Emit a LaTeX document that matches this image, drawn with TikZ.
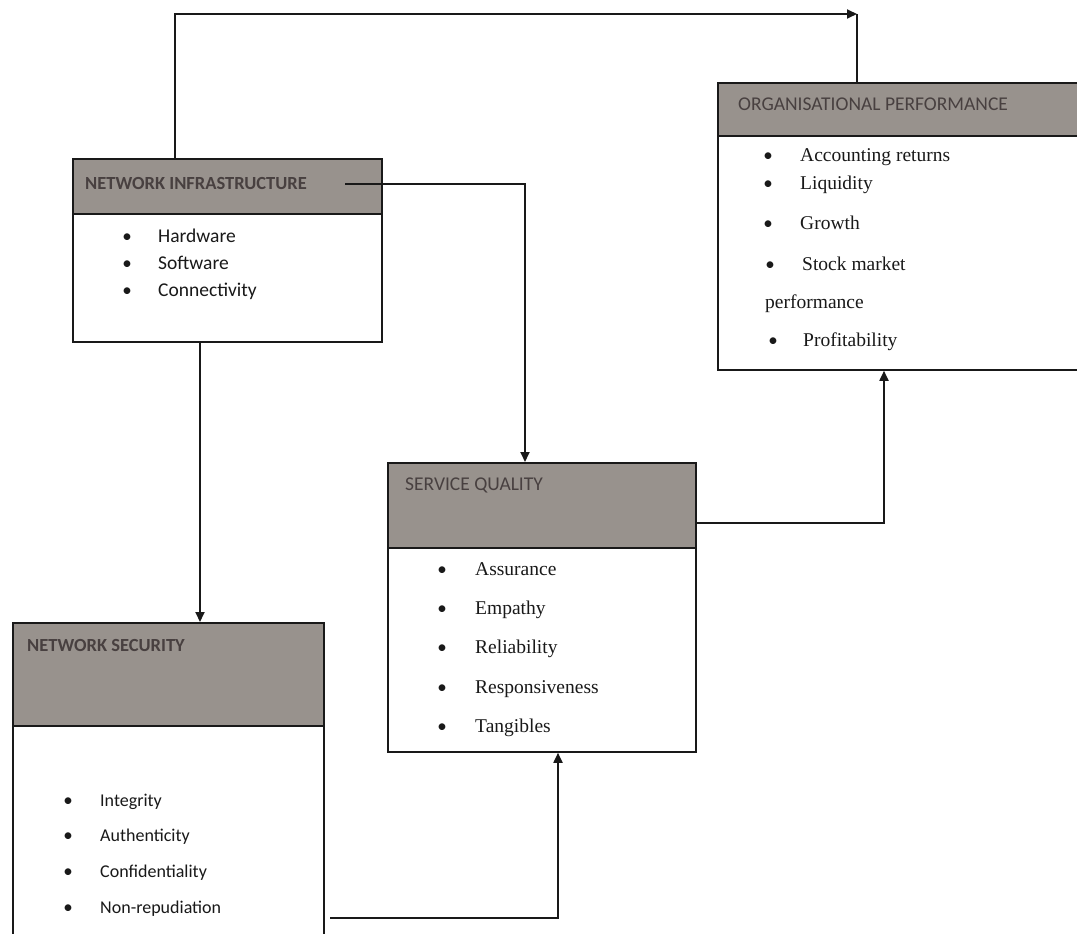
\documentclass[tikz,border=0pt]{standalone}
\usepackage{fontspec}
\setmainfont{Carlito}
\newfontfamily\itemserif{Liberation Serif}
\usetikzlibrary{arrows.meta}
\definecolor{hdrfill}{RGB}{152,146,141}
\definecolor{hdrtext}{RGB}{72,64,64}
\definecolor{ink}{RGB}{25,25,25}
\begin{document}
\begin{tikzpicture}[x=1pt,y=-1pt,
  box/.style={draw=ink, line width=1.8pt, inner sep=0pt, anchor=north west},
  hdrbox/.style={draw=ink, line width=1.8pt, fill=hdrfill, inner sep=0pt, anchor=north west},
  hd/.style={anchor=mid west, inner sep=0pt, text=hdrtext, font=\fontsize{19.5}{22}\selectfont},
  hdb/.style={anchor=mid west, inner sep=0pt, text=hdrtext, font=\bfseries\fontsize{18.5}{22}\selectfont},
  itsans/.style={anchor=mid west, inner sep=0pt, text=ink, font=\fontsize{19.5}{22}\selectfont},
  itsansb/.style={anchor=mid west, inner sep=0pt, text=ink, font=\fontsize{18}{22}\selectfont},
  itser/.style={anchor=mid west, inner sep=0pt, text=ink, font=\itemserif\fontsize{19.5}{22}\selectfont},
  bul/.style={anchor=mid, inner sep=0pt, text=ink, font=\fontsize{19}{22}\selectfont},
  conn/.style={draw=ink, line width=1.8pt},
  arr/.style={conn, -{Triangle[length=10pt,width=9pt]}}
]
\useasboundingbox[fill=white] (0,0) rectangle (1077,934);

% ---------- boxes ----------
% Network infrastructure
\node[hdrbox, minimum width=309pt, minimum height=55pt] (nih) at (72,158) {};
\node[box, minimum width=309pt, minimum height=183pt] (ni) at (72,158) {};
% Organisational performance
\node[hdrbox, minimum width=368pt, minimum height=53pt] (oph) at (717,82) {};
\node[box, minimum width=368pt, minimum height=287pt] (op) at (717,82) {};
% Service quality
\node[hdrbox, minimum width=308pt, minimum height=85pt] (sqh) at (387,462) {};
\node[box, minimum width=308pt, minimum height=289pt] (sq) at (387,462) {};
% Network security
\node[hdrbox, minimum width=311pt, minimum height=103pt] (nsh) at (12,622) {};
\node[box, minimum width=311pt, minimum height=330pt] (ns) at (12,622) {};

% ---------- headers ----------
\node[hdb] (nit) at (85,187) {NETWORK INFRASTRUCTURE};
\node[hd] (opt) at (738,108) {ORGANISATIONAL PERFORMANCE};
\node[hd] (sqt) at (405,488) {SERVICE QUALITY};
\node[hdb] (nst) at (27,649) {NETWORK SECURITY};

% ---------- items ----------
\node[bul] (nib1) at (127,240) {•}; \node[itsans] (ni1) at (158,240) {Hardware};
\node[bul] (nib2) at (127,267) {•}; \node[itsans] (ni2) at (158,267) {Software};
\node[bul] (nib3) at (127,294) {•}; \node[itsans] (ni3) at (158,294) {Connectivity};

\node[bul] (opb1) at (768,159) {•}; \node[itser] (op1) at (800,159) {Accounting returns};
\node[bul] (opb2) at (768,187) {•}; \node[itser] (op2) at (800,187) {Liquidity};
\node[bul] (opb3) at (768,227) {•}; \node[itser] (op3) at (800,227) {Growth};
\node[bul] (opb4) at (770,268) {•}; \node[itser] (op4) at (802,268) {Stock market};
\node[itser] (op5) at (765,306) {performance};
\node[bul] (opb6) at (773,344) {•}; \node[itser] (op6) at (803,344) {Profitability};

\node[bul] (sqb1) at (442,573) {•}; \node[itser] (sq1) at (475,573) {Assurance};
\node[bul] (sqb2) at (442,612) {•}; \node[itser] (sq2) at (475,612) {Empathy};
\node[bul] (sqb3) at (442,651) {•}; \node[itser] (sq3) at (475,651) {Reliability};
\node[bul] (sqb4) at (442,691) {•}; \node[itser] (sq4) at (475,691) {Responsiveness};
\node[bul] (sqb5) at (442,730) {•}; \node[itser] (sq5) at (475,730) {Tangibles};

\node[bul] (nsb1) at (68,804) {•}; \node[itsansb] (ns1) at (100,804) {Integrity};
\node[bul] (nsb2) at (68,839) {•}; \node[itsansb] (ns2) at (100,839) {Authenticity};
\node[bul] (nsb3) at (68,875) {•}; \node[itsansb] (ns3) at (100,875) {Confidentiality};
\node[bul] (nsb4) at (68,911) {•}; \node[itsansb] (ns4) at (100,911) {Non-repudiation};

% ---------- connectors ----------
\coordinate (corner) at (857,14);
\draw[arr] ([xshift=103pt]ni.north west) |- (corner);
\draw[conn] (corner) -- (corner |- op.north);

\coordinate (s2) at (345,184);
\draw[arr] (s2) -| ([xshift=138pt]sq.north west);

\draw[arr] ([xshift=128pt]ni.south west) -- ([xshift=128pt]ni.south west |- ns.north);

\coordinate (s4) at (330,918);
\draw[arr] (s4) -| ([xshift=171pt]sq.south west);

\draw[arr] ([yshift=-61pt]sq.north east) -| ([xshift=167pt]op.south west);
\end{tikzpicture}
\end{document}
